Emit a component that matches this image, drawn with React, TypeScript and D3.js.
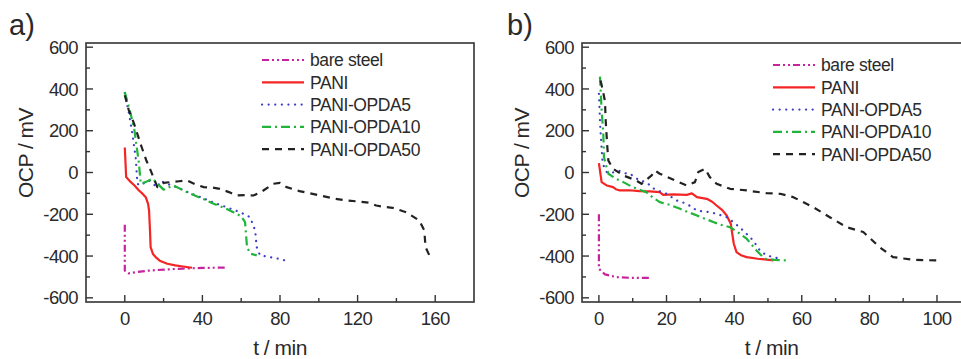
import React from 'react';
import * as d3 from 'd3';

type Pt = [number, number];

// panel a) series, [t / min, OCP / mV]
const aBare: Pt[] = [[0, -250], [0, -360], [0, -470], [2, -483], [6, -477], [12, -470], [20, -465], [30, -460], [40, -457], [52, -455]];
const aPani: Pt[] = [[0, 120], [0.7, -22], [3, -45], [5, -62], [7.3, -86], [9, -100], [10.8, -118], [12, -150], [12.5, -182], [13, -280], [13.3, -357], [14.5, -390], [15.9, -405], [18, -422], [21.9, -437], [26, -445], [30, -450], [34.7, -456]];
const aOpda5: Pt[] = [[0, 380], [2.2, 281], [3.9, 185], [5.6, 73], [6.5, -54], [8, -62], [10, -50], [12.5, -38], [14.5, -55], [16.8, -70], [18.5, -40], [22, -55], [28, -75], [34, -100], [39, -118], [46, -145], [54.4, -173], [59.5, -190], [64.6, -214], [67.2, -278], [68, -357], [69.7, -397], [73, -402], [78, -410], [83.7, -424]];
const aOpda10: Pt[] = [[0, 385], [3, 282], [5, 200], [7.3, 43], [8.2, -53], [11, -45], [14.2, -29], [17, -55], [20, -82], [25, -62], [32, -94], [40, -125], [45.8, -150], [52, -172], [56, -190], [60, -210], [62, -238], [63, -357], [64.6, -388], [68, -397]];
const aOpda50: Pt[] = [[0, 370], [2, 300], [4.8, 233], [8, 140], [11, 60], [13.3, 10], [16.8, -70], [20, -50], [23.6, -46], [28, -42], [32, -38], [36, -55], [40.7, -70], [45, -72], [49, -78], [54, -95], [57.8, -110], [62, -108], [66.3, -110], [70, -95], [76.6, -54], [80, -50], [83.4, -70], [90, -89], [100.5, -110], [108, -125], [114, -134], [121, -139], [126, -145], [129.6, -158], [134, -165], [138, -169], [145, -190], [151.8, -230], [154.4, -278], [155, -357], [157, -397], [158, -405]];

// panel b) series
const bBare: Pt[] = [[0, -200], [0, -330], [0, -461], [1.8, -488], [5.2, -501], [9, -504], [12, -505], [15.6, -504]];
const bPani: Pt[] = [[0, 45], [0.8, -46], [2.3, -62], [4.2, -70], [5, -80], [6.2, -86], [9, -85], [12, -89], [15, -90], [18, -94], [19, -107], [22, -105], [26, -107], [27.5, -100], [29, -118], [31.9, -126], [33.5, -140], [34.8, -158], [36.5, -180], [37.8, -206], [39, -245], [39.5, -300], [39.9, -341], [40.7, -381], [42, -396], [43.7, -405], [47, -413], [51.6, -421]];
const bOpda5: Pt[] = [[0, 377], [0.4, 217], [1.1, 42], [2.3, 2], [4.2, 0], [6, 8], [8.2, -6], [9.2, -6], [12, -38], [14, -46], [16, -75], [18, -90], [20, -102], [23, -134], [26, -150], [29, -182], [32.8, -190], [34.8, -198], [37.8, -214], [40, -240], [42.7, -278], [45.6, -325], [47.6, -373], [49.6, -397], [53.6, -413]];
const bOpda10: Pt[] = [[0.3, 459], [0.8, 300], [1.3, 185], [1.5, 73], [2.8, -6], [5, -30], [7.2, -46], [10, -70], [14, -94], [16, -120], [18, -142], [21, -155], [24, -174], [29, -206], [34, -238], [36, -250], [38.8, -262], [41, -285], [43.7, -317], [46.6, -373], [49, -413], [52, -418], [55.5, -421]];
const bOpda50: Pt[] = [[0.5, 440], [1.2, 390], [1.8, 340], [2, 250], [2.5, 120], [2.8, 57], [4.2, 18], [7.2, -14], [11, -38], [12.6, -54], [15.6, -14], [16.6, 10], [18, -6], [22.5, -38], [26, -62], [28.4, -46], [29.4, 2], [31.4, 18], [32.8, -22], [34.8, -54], [38.8, -78], [43.7, -86], [49.6, -99], [53.6, -102], [57.5, -118], [63.4, -166], [68.3, -214], [73.3, -262], [78.2, -285], [83, -357], [87, -405], [93, -418], [100, -421]];

const seriesNames = ['bare steel', 'PANI', 'PANI-OPDA5', 'PANI-OPDA10', 'PANI-OPDA50'];
const yTicks = [600, 400, 200, 0, -200, -400, -600];
const yMinor = [500, 300, 100, -100, -300, -500];
const xTicksA = [0, 40, 80, 120, 160];
const xMinorA = [20, 60, 100, 140];
const xTicksB = [0, 20, 40, 60, 80, 100];
const xMinorB = [10, 30, 50, 70, 90];

const styles = [
  { color: '#c8239e', dash: '7 3 2 3 2 3', cap: 'butt' },
  { color: '#f42525', dash: '', cap: 'butt' },
  { color: '#3d3dc8', dash: '0.1 6.5', cap: 'round' },
  { color: '#20b43a', dash: '9 4 2 4', cap: 'butt' },
  { color: '#222222', dash: '7 6', cap: 'butt' },
];

const font = '"Liberation Sans", Arial, sans-serif';
const ink = '#2a2a2a';

interface PanelProps {
  label: string;
  labelX: number;
  left: number;
  right: number;
  xDomain: [number, number];
  xTicks: number[];
  xMinor: number[];
  data: Pt[][];
  legendX: number;
  legendY: number;
  yLabelX: number;
}

const top = 43;
const bottom = 302;

const Panel = (p: PanelProps) => {
  const x = d3.scaleLinear().domain(p.xDomain).range([p.left, p.right]);
  const y = d3.scaleLinear().domain([-620, 620]).range([bottom, top]);
  const line = d3.line<Pt>().x(d => x(d[0])).y(d => y(d[1]));
  const midX = x(p.xTicks[0]) + (p.left + Math.min(p.right, 961) - 2 * x(p.xTicks[0])) / 2;

  return (
    <g>
      <text x={p.labelX} y={35} fontSize={29} fill={ink} fontFamily={font}>{p.label}</text>
      {p.data.map((pts, i) => (
        <path key={i} d={line(pts) || ''} fill="none" stroke={styles[i].color} strokeWidth={2.2}
          strokeDasharray={styles[i].dash} strokeLinecap={styles[i].cap as any} strokeLinejoin="round" />
      ))}
      <rect x={p.left} y={top} width={p.right - p.left} height={bottom - top} fill="none" stroke="#333" strokeWidth={1.6} />
      {yTicks.map(t => (
        <g key={'y' + t}>
          <line x1={p.left} x2={p.left + 7} y1={y(t)} y2={y(t)} stroke="#333" strokeWidth={1.4} />
          <text x={p.left - 8} y={y(t)} dy="0.36em" textAnchor="end" fontSize={18.5} letterSpacing={-0.6} fill={ink} fontFamily={font}>{t}</text>
        </g>
      ))}
      {yMinor.map(t => (
        <line key={'ym' + t} x1={p.left} x2={p.left + 4} y1={y(t)} y2={y(t)} stroke="#333" strokeWidth={1.4} />
      ))}
      {p.xTicks.map(t => (
        <g key={'x' + t}>
          <line x1={x(t)} x2={x(t)} y1={bottom} y2={bottom - 7} stroke="#333" strokeWidth={1.4} />
          <text x={x(t)} y={325} textAnchor="middle" fontSize={18.5} letterSpacing={-0.6} fill={ink} fontFamily={font}>{t}</text>
        </g>
      ))}
      {p.xMinor.map(t => (
        <line key={'xm' + t} x1={x(t)} x2={x(t)} y1={bottom} y2={bottom - 4} stroke="#333" strokeWidth={1.4} />
      ))}
      <text transform={`translate(${p.yLabelX},${153}) rotate(-90)`} textAnchor="middle" fontSize={21} letterSpacing={-0.5} fill={ink} fontFamily={font}>OCP / mV</text>
      <text x={midX} y={355} textAnchor="middle" fontSize={21} letterSpacing={-0.5} fill={ink} fontFamily={font}>t / min</text>
      {seriesNames.map((n, i) => {
        const ly = p.legendY + i * 22.3;
        return (
          <g key={n}>
            <line x1={p.legendX} x2={p.legendX + 42} y1={ly} y2={ly} stroke={styles[i].color} strokeWidth={2.2}
              strokeDasharray={styles[i].dash} strokeLinecap={styles[i].cap as any} />
            <text x={p.legendX + 48} y={ly} dy="0.36em" fontSize={17.5} letterSpacing={-0.4} fill={ink} fontFamily={font}>{n}</text>
          </g>
        );
      })}
    </g>
  );
};

export default function App() {
  return (
    <svg width={961} height={359} style={{ position: 'absolute', left: 0, top: 0, background: '#fff' }}>
      <Panel label="a)" labelX={9} left={86} right={474} xDomain={[-20, 180]} xTicks={xTicksA} xMinor={xMinorA}
        data={[aBare, aPani, aOpda5, aOpda10, aOpda50]} legendX={262} legendY={60} yLabelX={33} />
      <Panel label="b)" labelX={507} left={582} right={962} xDomain={[-5, 107.4]} xTicks={xTicksB} xMinor={xMinorB}
        data={[bBare, bPani, bOpda5, bOpda10, bOpda50]} legendX={773} legendY={65} yLabelX={529} />
    </svg>
  );
}
